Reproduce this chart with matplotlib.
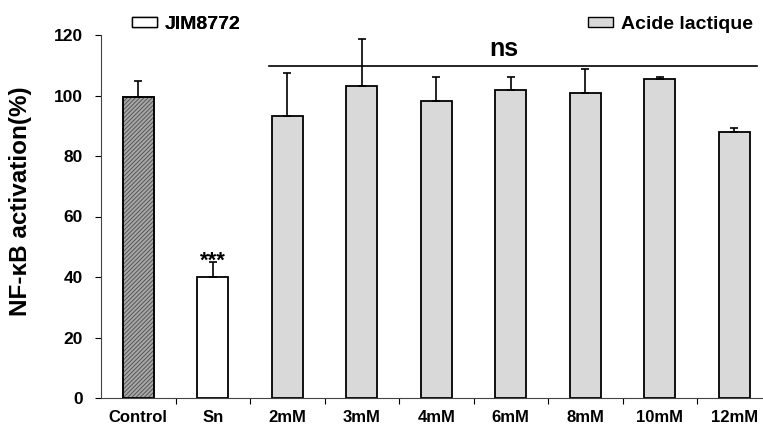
import matplotlib.pyplot as plt
from matplotlib.patches import Patch

plt.rcParams['font.family'] = ['Liberation Sans', 'DejaVu Sans']
plt.rcParams['font.weight'] = 'bold'
plt.rcParams['hatch.linewidth'] = 0.7

categories = ['Control', 'Sn', '2mM', '3mM', '4mM', '6mM', '8mM', '10mM', '12mM']
values = [99.6, 40.0, 93.2, 103.1, 98.1, 101.8, 100.9, 105.3, 88.0]
errors = [5.3, 5.0, 14.3, 15.6, 8.0, 4.3, 7.9, 0.9, 1.3]
colors = ['#a8a8a8', 'white'] + ['#d9d9d9'] * 7
hatches = ['////////', ''] + [''] * 7

fig = plt.figure(figsize=(7.63, 4.29), dpi=100)
ax = fig.add_axes([101 / 763, 31 / 429, 670.5 / 763, 363 / 429])

x = range(len(categories))
bars = ax.bar(x, values, width=0.41, color=colors, edgecolor='black', linewidth=1.3)
for b, h in zip(bars, hatches):
    if h:
        b.set_hatch(h)
        b.set_edgecolor('#555555')
ax.bar(0, values[0], width=0.41, fill=False, edgecolor='black', linewidth=1.3)
ax.errorbar(x, values, yerr=[[0] * len(errors), errors], fmt='none', ecolor='black',
            elinewidth=1.2, capsize=3, capthick=1.2)

ax.set_xlim(-0.5, 8.5)
ax.set_ylim(0, 120)
ax.set_yticks([0, 20, 40, 60, 80, 100, 120])
ax.set_xticks([i + 0.5 for i in range(8)])
ax.set_xticklabels([])
ax.set_xticks(list(x), minor=True)
ax.set_xticklabels(categories, minor=True, fontsize=12, fontweight='bold')
ax.tick_params(axis='x', which='minor', length=0, pad=9)
ax.tick_params(axis='x', which='major', length=4, direction='out')
ax.tick_params(axis='y', length=4, direction='out', labelsize=12.5, pad=9)
for lbl in ax.get_yticklabels():
    lbl.set_fontweight('bold')
ax.spines['top'].set_visible(False)
ax.spines['right'].set_visible(False)
ax.spines['left'].set_color('#444444')
ax.spines['bottom'].set_color('#444444')
ax.set_ylabel('NF-κB activation(%)', fontsize=17.5, fontweight='bold')
ax.yaxis.set_label_coords(-0.103, 0.543)

# significance marks
ax.plot([1.76, 8.3], [109.6, 109.6], color='black', linewidth=1.2, clip_on=False)
ax.text(4.91, 113.1, 'ns', ha='center', va='baseline', fontsize=18, fontweight='bold')
ax.text(1, 43.5, '***', ha='center', va='baseline', fontsize=16, fontweight='bold')

leg_kw = dict(loc='center left', frameon=False, borderpad=0, borderaxespad=0,
              handlelength=1.29, handleheight=0.46, handletextpad=0.41,
              prop={'weight': 'bold', 'size': 14})
leg1 = fig.legend(handles=[Patch(facecolor='white', edgecolor='black', label='JIM8772')],
                  bbox_to_anchor=(132 / 763, 1 - 24.5 / 429), **leg_kw)
fig.add_artist(leg1)
fig.legend(handles=[Patch(facecolor='#d9d9d9', edgecolor='black', label='Acide lactique')],
           bbox_to_anchor=(588 / 763, 1 - 24.5 / 429), **leg_kw)

fig.savefig('out.png', dpi=100)
